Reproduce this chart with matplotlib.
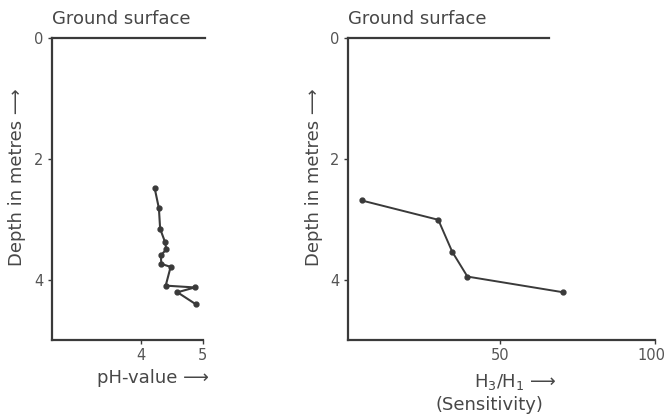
import numpy as np
import matplotlib.pyplot as plt
import matplotlib.transforms as mtransforms

# pH profile (left)
ph_value = [4.22, 4.29, 4.31, 4.39, 4.41, 4.32, 4.33, 4.48, 4.40, 4.87, 4.59, 4.89]
ph_depth = [2.48, 2.82, 3.16, 3.38, 3.50, 3.60, 3.74, 3.79, 4.10, 4.13, 4.21, 4.41]

# sensitivity profile (right)
sens_value = [5.4, 30.1, 34.6, 39.5, 70.4]
sens_depth = [2.69, 3.01, 3.54, 3.95, 4.21]

ink = '#3a3a3a'
txt = '#474747'
plt.rcParams['font.family'] = ['DejaVu Sans']

fig = plt.figure(figsize=(6.67, 4.16), dpi=100)
ax1 = fig.add_axes([0.078, 0.1827, 0.226, 0.726])
ax2 = fig.add_axes([0.5217, 0.1827, 0.4603, 0.726])

def style(ax, xlim, xticks, top_end):
	ax.set_ylim(5, 0)
	ax.set_xlim(*xlim)
	ax.set_yticks([0, 2, 4])
	ax.set_xticks(xticks)
	for s in ['top', 'right']:
		ax.spines[s].set_visible(False)
	for s in ['left', 'bottom']:
		ax.spines[s].set_color(ink)
		ax.spines[s].set_linewidth(1.6)
	ax.tick_params(colors=ink, labelcolor='#555555', labelsize=10.5, length=3, width=1, pad=3)
	ax.plot([xlim[0], top_end], [0, 0], color=ink, lw=1.6, clip_on=False)
	ax.text(xlim[0], -0.16, 'Ground surface', fontsize=13, color=txt, va='bottom', ha='left')
	ax.set_ylabel('Depth in metres ⟶', fontsize=13, color=txt)

style(ax1, (2.56, 5.0), [4, 5], 5.03)
ax1.yaxis.set_label_coords(-0.17, 0.54)
ax1.plot(ph_value, ph_depth, color=ink, lw=1.5, marker='o', ms=3.5)
fig.text(97/667, 1-378/416, 'pH-value ⟶', fontsize=13, color=txt, ha='left', va='center')

style(ax2, (0.97, 100), [50, 100], 65.8)
ax2.yaxis.set_label_coords(-0.082, 0.54)
ax2.plot(sens_value, sens_depth, color=ink, lw=1.4, marker='o', ms=3.5)
fig.text(515/667, 1-382/416, 'H$_3$/H$_1$ ⟶', fontsize=13, color=txt, ha='center', va='center')
fig.text(489/667, 1-405/416, '(Sensitivity)', fontsize=13, color=txt, ha='center', va='center')

# keep the "100" label inside the figure edge
lab = ax2.get_xticklabels()[-1]
lab.set_ha('right')
lab.set_transform(lab.get_transform() + mtransforms.ScaledTranslation(10/100, 0, fig.dpi_scale_trans))

fig.savefig('out.png', dpi=100)
